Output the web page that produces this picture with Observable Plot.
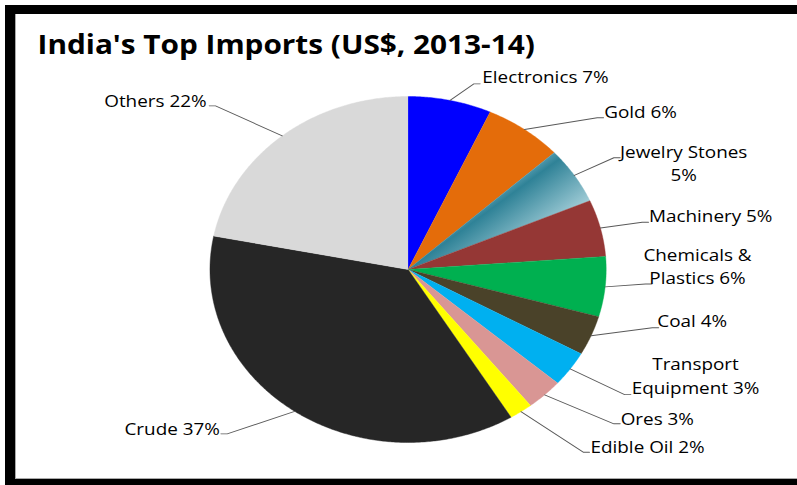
<!DOCTYPE html>
<html><head><meta charset="utf-8">
<script src="https://cdn.jsdelivr.net/npm/d3@7"></script>
<script src="https://cdn.jsdelivr.net/npm/@observablehq/plot@0.6"></script>
<style>
html,body{margin:0;padding:0;background:#fff;width:797px;height:485px;overflow:hidden;}
#chart{position:absolute;left:0;top:0;}
#frame{position:absolute;left:5px;top:5px;width:820px;height:490px;box-sizing:border-box;border-left:10px solid #000;border-top:9px solid #000;border-bottom:16px solid #000;box-shadow:inset 1px -1px 0 #aaa;pointer-events:none;}
</style></head><body>
<div id="chart"></div><div id="frame"></div>
<script>
// ---- data ----
const title = "India's Top Imports (US$, 2013-14)";
const categories = ["Electronics","Gold","Jewelry Stones","Machinery","Chemicals & Plastics","Coal","Transport Equipment","Ores","Edible Oil","Crude","Others"];
const shares = [6.8, 6.4, 5.3, 5.3, 5.6, 3.7, 3.3, 3.0, 1.9, 36.8, 21.9];
const labels = ["Electronics 7%","Gold 6%","Jewelry Stones\n5%","Machinery 5%","Chemicals &\nPlastics 6%","Coal 4%","Transport\nEquipment 3%","Ores 3%","Edible Oil 2%","Crude 37%","Others 22%"];
const colors = ["#0000FF","#E46C0A","url(#jewelGrad)","#953735","#00B050","#4A4229","#00B0F0","#D99694","#FFFF00","#262626","#D9D9D9"];

// ---- label layout (units of pie radius, relative to the centre) ----
const labelLayout = [
  {tx:0.375, ty:1.112, ex:0.332, ey:1.073, align:"start"},
  {tx:0.990, ty:0.908, ex:0.955, ey:0.877, align:"start"},
  {tx:1.391, ty:0.611, ex:1.039, ey:0.646, align:"middle"},
  {tx:1.216, ty:0.306, ex:1.182, ey:0.273, align:"start"},
  {tx:1.461, ty:0.014, ex:1.199, ey:-0.084, align:"middle"},
  {tx:1.258, ty:-0.301, ex:1.233, ey:-0.337, align:"start"},
  {tx:1.451, ty:-0.617, ex:1.093, ey:-0.723, align:"middle"},
  {tx:1.073, ty:-0.867, ex:1.039, ey:-0.892, align:"start"},
  {tx:0.921, ty:-1.027, ex:0.884, ey:-1.056, align:"start"},
  {tx:-0.950, ty:-0.925, ex:-0.913, ey:-0.950, align:"end"},
  {tx:-1.017, ty:0.973, ex:-0.972, ey:0.946, align:"end"}
];

// ---- geometry ----
const W = 696, H = 485, S = 797 / W;
const CX = 407.5 / S, CY = 269, R = 173;
const arcs = d3.pie().sort(null).value(d => d)(shares);

const slicePts = [];
arcs.forEach((a, i) => {
  const n = Math.max(2, Math.ceil((a.endAngle - a.startAngle) / (Math.PI / 360)));
  slicePts.push({name: categories[i], color: colors[i], u: 0, v: 0});
  for (let k = 0; k <= n; k++) {
    const t = a.startAngle + (a.endAngle - a.startAngle) * k / n;
    slicePts.push({name: categories[i], color: colors[i], u: Math.sin(t), v: Math.cos(t)});
  }
});

const leaderPts = [];
const labelRows = [];
arcs.forEach((a, i) => {
  const m = (a.startAngle + a.endAngle) / 2;
  const L = labelLayout[i];
  const dir = L.align === "end" || L.tx < 0 ? -1 : 1;
  leaderPts.push({k: i, u: Math.sin(m), v: Math.cos(m)});
  leaderPts.push({k: i, u: L.ex, v: L.ey});
  leaderPts.push({k: i, u: L.ex + dir * 0.032, v: L.ey});
  labelRows.push({label: labels[i], u: L.tx, v: L.ty, align: L.align});
});

const textOpts = {x: "u", y: "v", text: "label", fontFamily: "Open Sans", fontSize: 16.5, fill: "#000", lineHeight: 1.41, dy: -1.8};

const chart = Plot.plot({
  width: W, height: H,
  margin: 0,
  x: {domain: [-CX / R, (W - CX) / R], range: [0, W], axis: null},
  y: {domain: [(CY - H) / R, CY / R], range: [H, 0], axis: null},
  color: {type: "identity"},
  marks: [
    Plot.line(slicePts, {x: "u", y: "v", z: "name", fill: "color", stroke: "color", strokeWidth: 0.4, curve: "linear"}),
    Plot.line(leaderPts, {x: "u", y: "v", z: "k", stroke: "#595959", strokeWidth: 0.9, curve: "linear"}),
    Plot.text(labelRows.filter(d => d.align === "start"), {...textOpts, textAnchor: "start"}),
    Plot.text(labelRows.filter(d => d.align === "middle"), {...textOpts, textAnchor: "middle"}),
    Plot.text(labelRows.filter(d => d.align === "end"), {...textOpts, textAnchor: "end"}),
    Plot.text([title], {frameAnchor: "top-left", textAnchor: "start", lineAnchor: "top", dx: 32.3, dy: 35.5, fontFamily: "Open Sans", fontWeight: "bold", fontSize: 26, fill: "#000"})
  ]
});

// gradient for the Jewelry Stones slice
const ja = arcs[2];
const band = ja.startAngle + 0.13 * (ja.endAngle - ja.startAngle);
const nx = Math.cos(band), ny = Math.sin(band);
const ns = "http://www.w3.org/2000/svg";
const defs = document.createElementNS(ns, "defs");
const lg = document.createElementNS(ns, "linearGradient");
lg.setAttribute("id", "jewelGrad");
lg.setAttribute("gradientUnits", "userSpaceOnUse");
lg.setAttribute("x1", CX - nx * 0.06 * R); lg.setAttribute("y1", CY - ny * 0.06 * R);
lg.setAttribute("x2", CX + nx * 0.30 * R); lg.setAttribute("y2", CY + ny * 0.30 * R);
[["0", "#5a9fb2"], ["0.17", "#2f8297"], ["1", "#a6d0da"]].forEach(([o, c]) => {
  const st = document.createElementNS(ns, "stop");
  st.setAttribute("offset", o); st.setAttribute("stop-color", c);
  lg.appendChild(st);
});
defs.appendChild(lg);
chart.insertBefore(defs, chart.firstChild);

// the reference picture is stretched horizontally
chart.setAttribute("viewBox", `0 0 ${W} ${H}`);
chart.setAttribute("preserveAspectRatio", "none");
chart.setAttribute("width", 797);
chart.setAttribute("height", H);
chart.style.width = "797px";
chart.style.height = H + "px";
chart.style.maxWidth = "none";
chart.style.background = "#fff";
document.getElementById("chart").appendChild(chart);
</script>
</body></html>
